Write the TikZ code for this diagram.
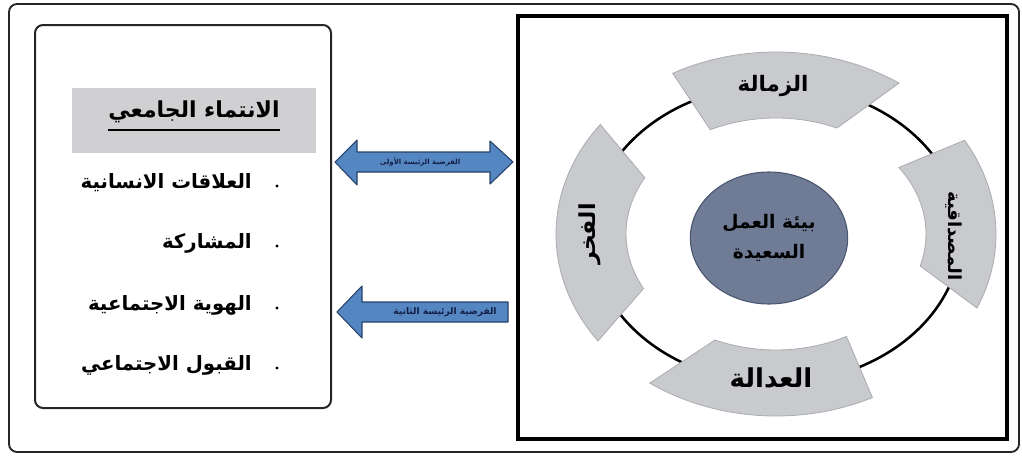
\documentclass[tikz,border=0pt]{standalone}
\usepackage{fontspec}
\usetikzlibrary{shapes.geometric}
\TeXXeTstate=1
\newfontfamily\arabicfont[Script=Arabic]{DejaVu Sans}
\newcommand{\ar}[1]{\arabicfont\bfseries\beginR #1\endR}
\definecolor{segfill}{RGB}{201,202,206}
\definecolor{segedge}{RGB}{170,171,176}
\definecolor{ellfill}{RGB}{112,124,150}
\definecolor{elledge}{RGB}{74,86,112}
\definecolor{arrfill}{RGB}{84,134,194}
\definecolor{arredge}{RGB}{40,66,104}
\definecolor{arrtext}{RGB}{20,30,70}
\definecolor{titlefill}{RGB}{208,208,211}
\newcommand{\ringseg}[4]{%
  \path[segstyle] plot[domain=#1:#2,samples=40] ({776+220*cos(\x)},{234-182*sin(\x)})
    -- plot[domain=#3:#4,samples=40] ({776+150*cos(\x)},{234-116*sin(\x)}) -- cycle;}
\begin{document}
\begin{tikzpicture}[x=0.75pt,y=-0.75pt,
  frame/.style={draw=black!85,line width=1.4pt,rounded corners=6pt},
  leftbox/.style={draw=black!85,line width=1.5pt,rounded corners=6pt},
  rightbox/.style={draw=black,line width=2.8pt},
  segstyle/.style={fill=segfill,draw=segedge,line width=0.6pt},
  ringline/.style={draw=black,line width=1.9pt},
  seglabel/.style={inner sep=0pt},
  item/.style={font=\fontsize{14.8}{17}\selectfont,inner sep=0pt,anchor=east},
  bulletdot/.style={circle,fill=black,inner sep=0pt,minimum size=2.6pt},
  arrowshape/.style={fill=arrfill,draw=arredge,line width=0.8pt,line join=round},
  arrowlabel/.style={text=arrtext,inner sep=0pt}
]
\useasboundingbox (0,0) rectangle (1022,457);
% outer frame
\draw[frame] (9,4) rectangle (1019,452);
% left box
\draw[leftbox] (35,25) rectangle (331,408);
\fill[titlefill] (72,88) rectangle (316,153);
\node[font=\fontsize{16.5}{18}\selectfont,inner sep=0pt] (title) at (194,112) {\ar{الانتماء الجامعي}};
\draw[line width=1pt] ([yshift=-5]title.south west) -- ([yshift=-5]title.south east);
\node[item] (i1) at (252,183) {\ar{العلاقات الانسانية}};
\node[item] (i2) at (252,243) {\ar{المشاركة}};
\node[item] (i3) at (252,305) {\ar{الهوية الاجتماعية}};
\node[item] (i4) at (252,365) {\ar{القبول الاجتماعي}};
\node[bulletdot] (b1) at (277,186) {};
\node[bulletdot] (b2) at (277,246) {};
\node[bulletdot] (b3) at (277,308) {};
\node[bulletdot] (b4) at (277,368) {};
% right box
\draw[rightbox] (518,16) rectangle (1007,439);
% ring
\draw[ringline] (776,234) ellipse [x radius=185, y radius=149];
\ringseg{56}{118}{116}{66}
\ringseg{-24}{31}{35}{-16}
\ringseg{-125}{-64}{-62}{-114}
\ringseg{143}{216}{208}{151}
\node[seglabel,font=\fontsize{16}{18}\selectfont] (sTop) at (773,86) {\ar{الزمالة}};
\node[seglabel,font=\fontsize{19.5}{21}\selectfont] (sBottom) at (771,378) {\ar{العدالة}};
\node[seglabel,font=\fontsize{16.5}{18}\selectfont,rotate=90] (sLeft) at (590,234) {\ar{الفخر}};
\node[seglabel,font=\fontsize{13.5}{15}\selectfont,rotate=-90] (sRight) at (954,236) {\ar{المصداقية}};
\node[ellipse,fill=ellfill,draw=elledge,line width=0.8pt,minimum width=118pt,minimum height=99pt,
  align=center,font=\fontsize{14}{22}\selectfont,inner sep=0pt] (center) at (769,238)
  {\ar{بيئة العمل}\\\ar{السعيدة}};
% arrows
\path[arrowshape] (335,162) -- (357,140) -- (357,152) -- (490,152) -- (490,141) -- (513,162)
  -- (490,184) -- (490,172) -- (357,172) -- (357,185) -- cycle;
\node[arrowlabel,font=\fontsize{5.2}{6}\selectfont] (a1) at (420,162) {\ar{الفرضية الرئيسة الأولى}};
\path[arrowshape] (337,312) -- (362,286) -- (362,302) -- (508,302) -- (508,322)
  -- (362,322) -- (362,338) -- cycle;
\node[arrowlabel,font=\fontsize{6.8}{8}\selectfont] (a2) at (445,312) {\ar{الفرضية الرئيسة الثانية}};
\end{tikzpicture}
\end{document}
